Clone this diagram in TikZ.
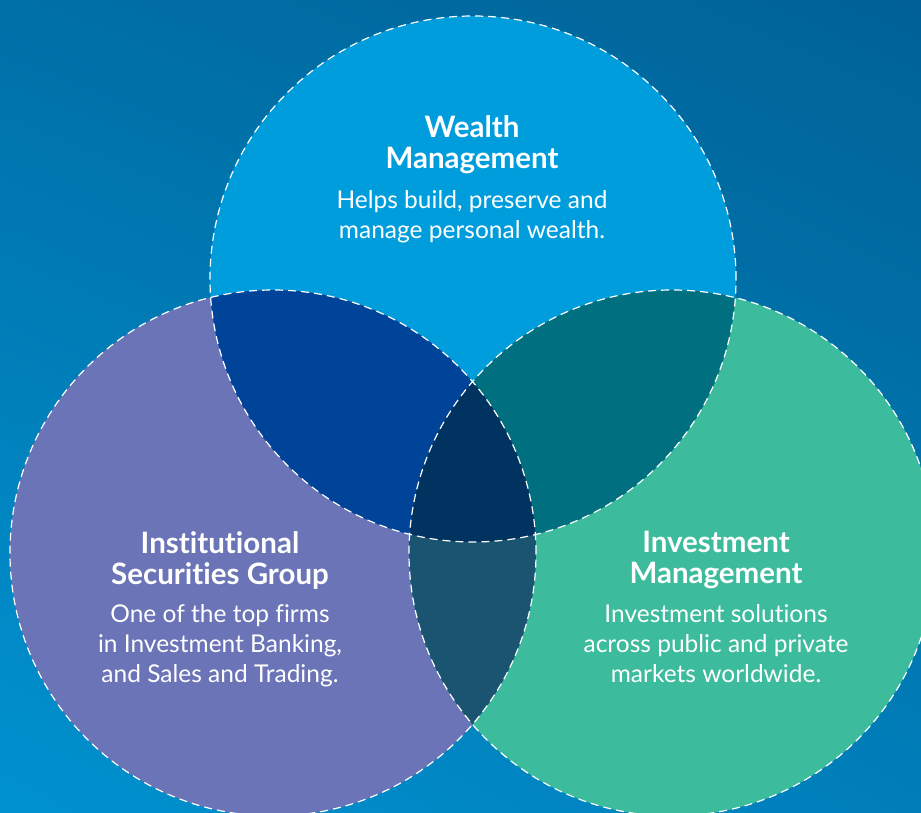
\documentclass[tikz,border=0pt]{standalone}
\usepackage{fontspec}
\setmainfont{Lato}[Ligatures={NoCommon,NoRare}]
\usetikzlibrary{shadings}

\definecolor{fondoSI}{RGB}{0,112,168}
\definecolor{fondoSD}{RGB}{0,98,150}
\definecolor{fondoII}{RGB}{0,146,208}
\definecolor{fondoID}{RGB}{0,126,186}
\definecolor{wmfill}{RGB}{0,157,220}
\definecolor{isgfill}{RGB}{106,116,182}
\definecolor{imfill}{RGB}{60,188,156}
\definecolor{wmisg}{RGB}{0,68,154}
\definecolor{wmim}{RGB}{0,112,128}
\definecolor{isgim}{RGB}{27,84,112}
\definecolor{centro}{RGB}{0,51,95}

\tikzset{
  borde/.style={draw=white, line width=1.2pt, dash pattern=on 8pt off 5pt},
  titulo/.style={text=white, align=center, inner sep=0pt, anchor=north,
    font=\fontsize{29.5}{31}\selectfont\bfseries},
  texto/.style={text=white, align=center, inner sep=0pt, anchor=north,
    font=\fontsize{24.5}{30}\selectfont},
}

\begin{document}
\begin{tikzpicture}[x=1pt,y=-1pt]
        \useasboundingbox (0,0) rectangle (921,813);

        % Paso 1: Fondo degradado
        \shade[upper left=fondoSI, upper right=fondoSD,
               lower left=fondoII, lower right=fondoID] (0,0) rectangle (921,813);

        % Paso 2: Define los centros de los tres círculos
        \coordinate (W) at (473,279);
        \coordinate (I) at (273,553);
        \coordinate (M) at (672,553);

        % Paso 3: Rellena los círculos
        \fill[wmfill] (W) circle[radius=263pt];
        \fill[isgfill] (I) circle[radius=263pt];
        \fill[imfill] (M) circle[radius=263pt];

        % Paso 4: Rellena las intersecciones
        \begin{scope}
            \clip (W) circle[radius=263pt];
            \fill[wmisg] (I) circle[radius=263pt];
            \fill[wmim] (M) circle[radius=263pt];
        \end{scope}
        \begin{scope}
            \clip (I) circle[radius=263pt];
            \fill[isgim] (M) circle[radius=263pt];
        \end{scope}
        \begin{scope}
            \clip (W) circle[radius=263pt];
            \clip (I) circle[radius=263pt];
            \fill[centro] (M) circle[radius=263pt];
        \end{scope}

        % Paso 5: Bordes punteados
        \draw[borde] (W) circle[radius=263pt];
        \draw[borde] (I) circle[radius=263pt];
        \draw[borde] (M) circle[radius=263pt];

        % Paso 6: Agrega los textos
        \node[titulo] (wmtit) at (472,115) {Wealth\\Management};
        \node[texto] (wmtxt) at (472,190) {Helps build, preserve and\\manage personal wealth.};
        \node[titulo] (isgtit) at (220,531) {Institutional\\Securities Group};
        \node[texto] (isgtxt) at (220,604) {One of the top firms\\in Investment Banking,\\and Sales and Trading.};
        \node[titulo] (imtit) at (716,531) {Investment\\Management};
        \node[texto] (imtxt) at (716,604) {Investment solutions\\across public and private\\markets worldwide.};
    \end{tikzpicture}
\end{document}
